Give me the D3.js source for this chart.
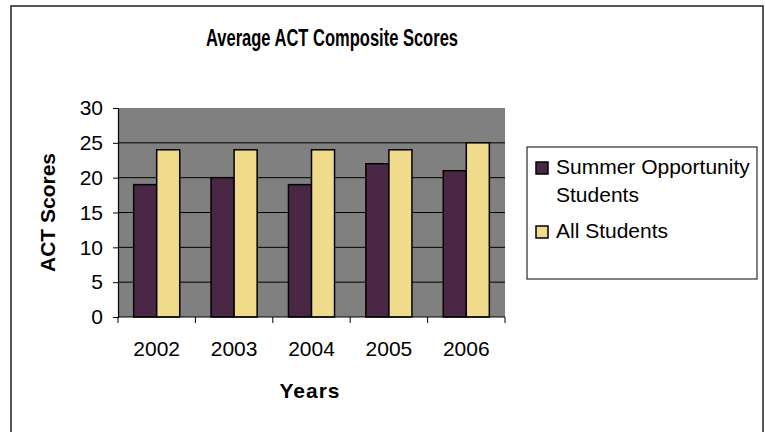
<!DOCTYPE html>
<html>
<head>
<meta charset="utf-8">
<script src="https://cdn.jsdelivr.net/npm/d3@7"></script>
<style>
  body { margin: 0; background: #fff; }
  svg { font-family: "Liberation Sans", Arial, sans-serif; }
</style>
</head>
<body>
<div id="chart"></div>
<script>
const years = ["2002", "2003", "2004", "2005", "2006"];
const seriesNames = ["Summer Opportunity Students", "All Students"];
const summerScores = [19, 20, 19, 22, 21];
const allScores = [24, 24, 24, 24, 25];
const yTicks = [0, 5, 10, 15, 20, 25, 30];
const colors = ["#4a2845", "#f0da8c"];

const width = 765, height = 432;
const plot = { left: 118, right: 505, top: 108, bottom: 317 };

const svg = d3.select("#chart").append("svg")
  .attr("width", width)
  .attr("height", height);

//outer chart frame
svg.append("rect")
  .attr("x", 11).attr("y", 6)
  .attr("width", 752).attr("height", 440)
  .attr("fill", "#fff")
  .attr("stroke", "#222")
  .attr("stroke-width", 1.5);

const x0 = d3.scaleBand().domain(years).range([plot.left, plot.right]);
const x1 = d3.scaleBand().domain(seriesNames)
  .range([0, x0.bandwidth()])
  .paddingOuter(0.68);
const y = d3.scaleLinear().domain([0, 30]).range([plot.bottom, plot.top]);

//plot background
svg.append("rect")
  .attr("x", plot.left).attr("y", plot.top)
  .attr("width", plot.right - plot.left)
  .attr("height", plot.bottom - plot.top)
  .attr("fill", "#808080");

//gridlines
svg.append("g")
  .selectAll("line")
  .data(yTicks.filter(d => d > 0 && d < 30))
  .join("line")
  .attr("x1", plot.left).attr("x2", plot.right)
  .attr("y1", d => y(d)).attr("y2", d => y(d))
  .attr("stroke", "#000")
  .attr("stroke-width", 1);

//bars
const rows = years.map((yr, i) => ({ year: yr, values: [summerScores[i], allScores[i]] }));
svg.append("g")
  .selectAll("g")
  .data(rows)
  .join("g")
  .attr("transform", d => `translate(${x0(d.year)},0)`)
  .selectAll("rect")
  .data(d => d.values.map((v, k) => ({ name: seriesNames[k], value: v, k })))
  .join("rect")
  .attr("x", d => x1(d.name))
  .attr("y", d => y(d.value))
  .attr("width", x1.bandwidth())
  .attr("height", d => y(0) - y(d.value))
  .attr("fill", d => colors[d.k])
  .attr("stroke", "#000")
  .attr("stroke-width", 1.5);

//y axis
const yAxis = svg.append("g")
  .attr("transform", `translate(${plot.left},0)`)
  .call(d3.axisLeft(y).tickValues(yTicks).tickSize(5).tickPadding(10));
yAxis.select(".domain").attr("stroke", "#000").attr("stroke-width", 1.2);
yAxis.selectAll("text").attr("font-size", 21).attr("fill", "#000");

//x axis line and ticks at band edges
svg.append("line")
  .attr("x1", plot.left).attr("x2", plot.right)
  .attr("y1", plot.bottom).attr("y2", plot.bottom)
  .attr("stroke", "#000").attr("stroke-width", 1.2);
const edges = years.map(d => x0(d)).concat([plot.right]);
svg.append("g")
  .selectAll("line")
  .data(edges)
  .join("line")
  .attr("x1", d => d).attr("x2", d => d)
  .attr("y1", plot.bottom).attr("y2", plot.bottom + 6)
  .attr("stroke", "#000");
svg.append("g")
  .selectAll("text")
  .data(years)
  .join("text")
  .attr("x", d => x0(d) + x0.bandwidth() / 2)
  .attr("y", 356)
  .attr("text-anchor", "middle")
  .attr("font-size", 21)
  .text(d => d);

//titles (chart title is condensed in the original)
svg.append("text")
  .attr("x", 206).attr("y", 46)
  .attr("font-size", 23)
  .attr("font-weight", "bold")
  .attr("textLength", 252)
  .attr("lengthAdjust", "spacingAndGlyphs")
  .text("Average ACT Composite Scores");

svg.append("text")
  .attr("x", 310).attr("y", 398)
  .attr("text-anchor", "middle")
  .attr("font-size", 21)
  .attr("font-weight", "bold")
  .attr("letter-spacing", 1)
  .text("Years");

svg.append("text")
  .attr("transform", `translate(55,${(plot.top + plot.bottom) / 2}) rotate(-90)`)
  .attr("text-anchor", "middle")
  .attr("font-size", 21)
  .attr("font-weight", "bold")
  .text("ACT Scores");

//legend
const legend = svg.append("g");
legend.append("rect")
  .attr("x", 527).attr("y", 147)
  .attr("width", 230).attr("height", 132)
  .attr("fill", "#fff")
  .attr("stroke", "#000")
  .attr("stroke-width", 1);

const legendItems = [
  { lines: ["Summer Opportunity", "Students"], y: 174, color: colors[0] },
  { lines: ["All Students"], y: 238, color: colors[1] }
];
legendItems.forEach(item => {
  legend.append("rect")
    .attr("x", 536).attr("y", item.y - 12)
    .attr("width", 12).attr("height", 12)
    .attr("fill", item.color)
    .attr("stroke", "#000")
    .attr("stroke-width", 1.5);
  item.lines.forEach((ln, j) => {
    legend.append("text")
      .attr("x", 556).attr("y", item.y + j * 27.5)
      .attr("font-size", 21)
      .text(ln);
  });
});
</script>
</body>
</html>
